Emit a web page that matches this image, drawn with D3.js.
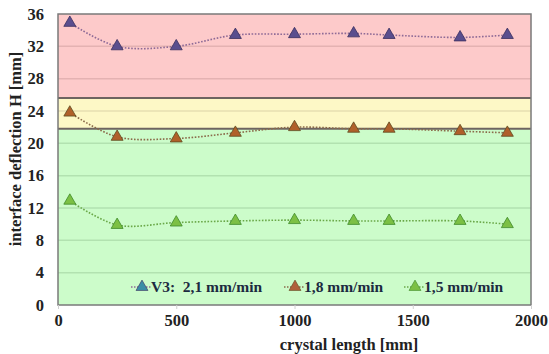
<!DOCTYPE html>
<html>
<head>
<meta charset="utf-8">
<script src="https://cdn.jsdelivr.net/npm/d3@7/dist/d3.min.js"></script>
<style>
  body { margin: 0; background: #fff; }
  text { font-family: "Liberation Serif", "DejaVu Serif", serif; font-weight: bold; }
</style>
</head>
<body>
<svg id="chart" width="549" height="354"></svg>
<script>
// crystal length positions [mm]
var lengths = [50, 250, 500, 750, 1000, 1250, 1400, 1700, 1900];
// interface deflection H [mm] per pulling rate
var v21 = [34.9, 32.0, 32.0, 33.4, 33.5, 33.6, 33.4, 33.1, 33.4];
var v18 = [23.8, 20.8, 20.6, 21.3, 22.0, 21.8, 21.8, 21.5, 21.3];
var v15 = [12.9, 9.9, 10.2, 10.4, 10.5, 10.4, 10.4, 10.4, 10.0];
var seriesNames = ["V3:  2,1 mm/min", "1,8 mm/min", "1,5 mm/min"];
var xTicks = [0, 500, 1000, 1500, 2000];
var yTicks = [0, 4, 8, 12, 16, 20, 24, 28, 32, 36];
// coloured zones (lower, upper)
var zones = [[25.6, 36], [21.8, 25.6], [0, 21.8]];

var svg = d3.select("#chart"),
    margin = {top: 14, right: 18, bottom: 49, left: 58},
    width = +svg.attr("width") - margin.left - margin.right,
    height = +svg.attr("height") - margin.top - margin.bottom;

var g = svg.append("g").attr("transform", "translate(" + margin.left + "," + margin.top + ")");

var x = d3.scaleLinear().domain([0, 2000]).range([0, width]);
var y = d3.scaleLinear().domain([0, 36]).range([height, 0]);

var zoneFill = ["#fdcaca", "#fdf8c6", "#ccfcca"];
var zoneGrid = ["#e4b2b2", "#e6dfb0", "#b2e2b0"];

g.selectAll(".zone")
  .data(zones)
  .enter().append("rect")
    .attr("x", 0)
    .attr("width", width)
    .attr("y", function(d) { return y(d[1]); })
    .attr("height", function(d) { return y(d[0]) - y(d[1]); })
    .attr("fill", function(d, i) { return zoneFill[i]; });

// gridlines, coloured by the zone they fall in
g.selectAll(".grid")
  .data(yTicks.slice(1, -1))
  .enter().append("line")
    .attr("x1", 0).attr("x2", width)
    .attr("y1", function(d) { return y(d); })
    .attr("y2", function(d) { return y(d); })
    .attr("stroke", function(d) {
      return d > zones[0][0] ? zoneGrid[0] : d > zones[1][0] ? zoneGrid[1] : zoneGrid[2];
    })
    .attr("stroke-width", 1.5);

// zone separators
g.selectAll(".sep")
  .data([zones[0][0], zones[1][0]])
  .enter().append("line")
    .attr("x1", 0).attr("x2", width)
    .attr("y1", function(d) { return y(d); })
    .attr("y2", function(d) { return y(d); })
    .attr("stroke", "#6e6460")
    .attr("stroke-width", 2);

g.append("rect")
  .attr("width", width).attr("height", height)
  .attr("fill", "none")
  .attr("stroke", "#7a7a7a")
  .attr("stroke-width", 1.5);

// axes
var yAxis = g.append("g")
  .call(d3.axisLeft(y).tickValues(yTicks).tickSize(0).tickPadding(14));
yAxis.select(".domain").remove();
yAxis.selectAll("text").attr("font-size", 16.5).attr("fill", "#222");

var xAxis = g.append("g")
  .attr("transform", "translate(0," + height + ")")
  .call(d3.axisBottom(x).tickValues(xTicks).tickFormat(d3.format("d")).tickSize(4).tickPadding(5));
xAxis.select(".domain").remove();
xAxis.selectAll("line").attr("stroke", "#d0d0d0");
xAxis.selectAll("text").attr("font-size", 16.5).attr("fill", "#222");

svg.append("text")
  .attr("x", 349)
  .attr("y", 350)
  .attr("text-anchor", "middle")
  .attr("font-size", 16.5)
  .attr("fill", "#222")
  .text("crystal length [mm]");

svg.append("text")
  .attr("transform", "translate(21,149) rotate(-90)")
  .attr("text-anchor", "middle")
  .attr("font-size", 16.5)
  .attr("fill", "#222")
  .text("interface deflection  H [mm]");

// series
var series = [
  {name: seriesNames[0], values: v21, line: "#8e6a96", fill: "#5a4e8e", stroke: "#3a2f5e", legendFill: "#3a8ea6"},
  {name: seriesNames[1], values: v18, line: "#8a6a4a", fill: "#b0602a", stroke: "#5e4a20", legendFill: "#b0603a"},
  {name: seriesNames[2], values: v15, line: "#6aa848", fill: "#7cc044", stroke: "#3e8a28", legendFill: "#7cc044"}
];

var line = d3.line()
  .x(function(d, i) { return x(lengths[i]); })
  .y(function(d) { return y(d); })
  .curve(d3.curveCatmullRom.alpha(0.5));

var tri = d3.symbol().type(d3.symbolTriangle).size(62);

series.forEach(function(s) {
  g.append("path")
    .datum(s.values)
    .attr("d", line)
    .attr("fill", "none")
    .attr("stroke", s.line)
    .attr("stroke-width", 1.6)
    .attr("stroke-dasharray", "1.6,1.6");

  g.selectAll(null)
    .data(s.values)
    .enter().append("path")
      .attr("d", tri)
      .attr("transform", function(d, i) { return "translate(" + x(lengths[i]) + "," + y(d) + ")"; })
      .attr("fill", s.fill)
      .attr("stroke", s.stroke)
      .attr("stroke-width", 0.8);
});

// legend
var legendX = [142, 295, 415];
var legend = g.selectAll(".legend")
  .data(series)
  .enter().append("g")
    .attr("transform", function(d, i) { return "translate(" + (legendX[i] - margin.left) + "," + (287 - margin.top) + ")"; });

legend.append("line")
  .attr("x1", -11).attr("x2", 9)
  .attr("stroke", function(d) { return d.line; })
  .attr("stroke-width", 1.4)
  .attr("stroke-dasharray", "1.5,1.5");
legend.append("path")
  .attr("d", tri)
  .attr("fill", function(d) { return d.legendFill; })
  .attr("stroke", function(d) { return d.stroke; })
  .attr("stroke-width", 0.6);
legend.append("text")
  .attr("x", 9)
  .attr("dy", "0.35em")
  .attr("font-size", 15.5)
  .attr("fill", "#1c2a40")
  .style("white-space", "pre")
  .text(function(d) { return d.name; });
</script>
</body>
</html>
